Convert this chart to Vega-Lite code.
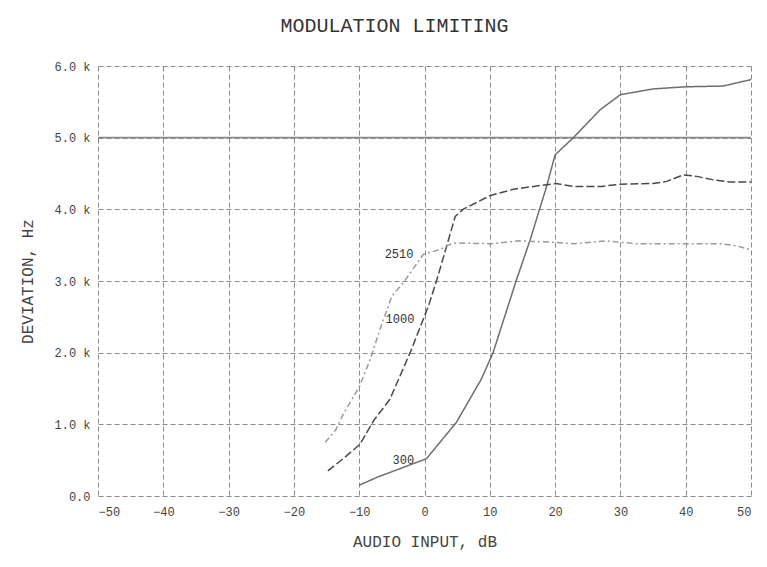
{
  "$schema": "https://vega.github.io/schema/vega-lite/v6.json",
  "width": 653,
  "height": 430,
  "autosize": {"type": "none"},
  "padding": {"left": 98, "top": 66, "right": 16, "bottom": 71},
  "background": "white",
  "config": {
    "view": {"stroke": null},
    "font": "Liberation Mono",
    "axis": {
      "grid": true,
      "gridDash": [5, 3],
      "gridColor": "#8a8a8a",
      "gridOpacity": 1,
      "gridWidth": 1,
      "domain": false,
      "ticks": false,
      "labelFont": "Liberation Mono",
      "labelFontSize": 12,
      "labelColor": "#444444",
      "titleFont": "Liberation Mono",
      "titleFontSize": 16,
      "titleFontWeight": "normal",
      "titleColor": "#444444"
    },
    "axisX": {"labelPadding": 10, "titlePadding": 16},
    "axisY": {"labelPadding": 8, "titlePadding": 18}
  },
  "title": {
    "text": "MODULATION LIMITING",
    "font": "Liberation Mono",
    "fontSize": 20,
    "fontWeight": "normal",
    "color": "#333333",
    "anchor": "middle",
    "frame": "group",
    "dx": -30,
    "offset": 24
  },
  "datasets": {
    "curves": [
      {"series": "300", "x": -10, "y": 150},
      {"series": "300", "x": -7.3, "y": 260},
      {"series": "300", "x": -3.8, "y": 380},
      {"series": "300", "x": 0.3, "y": 520},
      {"series": "300", "x": 4.9, "y": 1030},
      {"series": "300", "x": 8.7, "y": 1630},
      {"series": "300", "x": 10.5, "y": 2000},
      {"series": "300", "x": 14.1, "y": 3020},
      {"series": "300", "x": 16.2, "y": 3580},
      {"series": "300", "x": 18.7, "y": 4320},
      {"series": "300", "x": 20, "y": 4760},
      {"series": "300", "x": 22.8, "y": 5000},
      {"series": "300", "x": 26.9, "y": 5390},
      {"series": "300", "x": 30, "y": 5600},
      {"series": "300", "x": 35, "y": 5680},
      {"series": "300", "x": 40, "y": 5710},
      {"series": "300", "x": 45.7, "y": 5720},
      {"series": "300", "x": 50, "y": 5810},
      {"series": "1000", "x": -14.8, "y": 350},
      {"series": "1000", "x": -12.2, "y": 540},
      {"series": "1000", "x": -9.9, "y": 720},
      {"series": "1000", "x": -7.8, "y": 1050},
      {"series": "1000", "x": -5.3, "y": 1350},
      {"series": "1000", "x": -2.2, "y": 2000},
      {"series": "1000", "x": 0.6, "y": 2650},
      {"series": "1000", "x": 1.9, "y": 3020},
      {"series": "1000", "x": 3.4, "y": 3490},
      {"series": "1000", "x": 4.7, "y": 3900},
      {"series": "1000", "x": 5.9, "y": 4000},
      {"series": "1000", "x": 10, "y": 4190},
      {"series": "1000", "x": 13.6, "y": 4280},
      {"series": "1000", "x": 16.7, "y": 4320},
      {"series": "1000", "x": 20.2, "y": 4360},
      {"series": "1000", "x": 22.8, "y": 4320},
      {"series": "1000", "x": 27.1, "y": 4320},
      {"series": "1000", "x": 30, "y": 4350},
      {"series": "1000", "x": 35, "y": 4360},
      {"series": "1000", "x": 37.1, "y": 4390},
      {"series": "1000", "x": 39.6, "y": 4480},
      {"series": "1000", "x": 41.7, "y": 4460},
      {"series": "1000", "x": 44.3, "y": 4410},
      {"series": "1000", "x": 46.8, "y": 4380},
      {"series": "1000", "x": 50, "y": 4380},
      {"series": "2510", "x": -15.2, "y": 750},
      {"series": "2510", "x": -13.6, "y": 920},
      {"series": "2510", "x": -12.4, "y": 1150},
      {"series": "2510", "x": -10, "y": 1520},
      {"series": "2510", "x": -8.3, "y": 1910},
      {"series": "2510", "x": -6.8, "y": 2330},
      {"series": "2510", "x": -5, "y": 2790},
      {"series": "2510", "x": -3.2, "y": 2980},
      {"series": "2510", "x": -0.2, "y": 3370},
      {"series": "2510", "x": 2.4, "y": 3440},
      {"series": "2510", "x": 3.9, "y": 3510},
      {"series": "2510", "x": 4.7, "y": 3530},
      {"series": "2510", "x": 10, "y": 3520},
      {"series": "2510", "x": 14.6, "y": 3560},
      {"series": "2510", "x": 19.7, "y": 3540},
      {"series": "2510", "x": 22.8, "y": 3520},
      {"series": "2510", "x": 27.9, "y": 3560},
      {"series": "2510", "x": 30, "y": 3540},
      {"series": "2510", "x": 32.5, "y": 3520},
      {"series": "2510", "x": 40, "y": 3520},
      {"series": "2510", "x": 45.3, "y": 3520},
      {"series": "2510", "x": 47.8, "y": 3490},
      {"series": "2510", "x": 49.8, "y": 3440}
    ],
    "labels": [
      {"label": "2510", "x": -3.9, "y": 3380},
      {"label": "1000", "x": -3.75, "y": 2470},
      {"label": "300", "x": -3.25, "y": 500}
    ],
    "limit": [{"y": 5000}]
  },
  "layer": [
    {
      "data": {"name": "limit"},
      "mark": {"type": "rule", "color": "#8a8a8a", "strokeWidth": 1.6},
      "encoding": {
        "y": {"field": "y", "type": "quantitative", "title": "DEVIATION, Hz", "scale": {"domain": [0, 6000], "nice": false}}
      }
    },
    {
      "data": {"name": "curves"},
      "mark": {"type": "line", "strokeWidth": 1.5},
      "encoding": {
        "x": {
          "field": "x", "type": "quantitative", "title": "AUDIO INPUT, dB",
          "scale": {"domain": [-50, 50], "nice": false},
          "axis": {"values": [-50, -40, -30, -20, -10, 0, 10, 20, 30, 40, 50]}
        },
        "y": {
          "field": "y", "type": "quantitative", "title": "DEVIATION, Hz",
          "scale": {"domain": [0, 6000], "nice": false},
          "axis": {
            "values": [0, 1000, 2000, 3000, 4000, 5000, 6000],
            "labelExpr": "datum.value == 0 ? '0.0' : format(datum.value / 1000, '.1f') + ' k'"
          }
        },
        "color": {
          "field": "series", "type": "nominal", "legend": null,
          "scale": {"domain": ["300", "1000", "2510"], "range": ["#6e6e6e", "#4a4a4a", "#9a9a9a"]}
        },
        "strokeDash": {
          "field": "series", "type": "nominal", "legend": null,
          "scale": {"domain": ["300", "1000", "2510"], "range": [[1, 0], [8, 3], [6, 3, 2, 3]]}
        }
      }
    },
    {
      "data": {"name": "labels"},
      "mark": {"type": "text", "font": "Liberation Mono", "fontSize": 12, "color": "#333333", "align": "center", "baseline": "middle"},
      "encoding": {
        "x": {"field": "x", "type": "quantitative", "title": "AUDIO INPUT, dB"},
        "y": {"field": "y", "type": "quantitative", "title": "DEVIATION, Hz"},
        "text": {"field": "label"}
      }
    }
  ]
}
